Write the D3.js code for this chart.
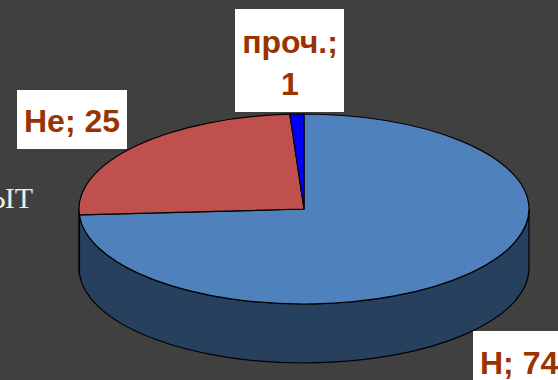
<!DOCTYPE html>
<html>
<head>
<meta charset="utf-8">
<script src="https://cdn.jsdelivr.net/npm/d3@7"></script>
<style>
  html, body { margin: 0; padding: 0; background: #404040; }
  svg { display: block; }
</style>
</head>
<body>
<svg id="chart" width="558" height="380"></svg>
<script>
// Data
const categories = ["Н", "Не", "проч."];
const values = [74, 25, 1];

// Appearance
const topColors = ["#4f81bd", "#c0504d", "#0000ff"];
const sideColors = ["#27405e", "#7a302e", "#00009a"];
const W = 558, H = 380;
const cx = 304, cy = 209, rx = 225, ry = 95, depth = 59;

const svg = d3.select("#chart");
svg.append("rect").attr("width", W).attr("height", H).attr("fill", "#404040");

// Tail of the slide text running in from the left edge
svg.append("text")
  .attr("x", 33).attr("y", 208)
  .attr("text-anchor", "end")
  .attr("font-family", "Liberation Serif, Times New Roman, serif")
  .attr("font-size", 30)
  .attr("fill", "#ececec")
  .text("ЫТ");

const data = categories.map((c, i) => ({ cat: c, value: values[i], i }));
const pie = d3.pie().sort(null).value(d => d.value);
const arcs = pie(data);

// Point on the tilted rim; angle 0 = 12 o'clock, clockwise
const px = a => cx + rx * Math.sin(a);
const py = (a, dy = 0) => cy - ry * Math.cos(a) + dy;

function topPath(a0, a1) {
  const large = (a1 - a0) > Math.PI ? 1 : 0;
  return `M${cx},${cy}L${px(a0)},${py(a0)}A${rx},${ry} 0 ${large} 1 ${px(a1)},${py(a1)}Z`;
}

function sidePath(a0, a1) {
  const s = Math.max(a0, Math.PI / 2), e = Math.min(a1, 3 * Math.PI / 2);
  if (s >= e) return null;
  const large = (e - s) > Math.PI ? 1 : 0;
  return `M${px(s)},${py(s)}A${rx},${ry} 0 ${large} 1 ${px(e)},${py(e)}` +
         `L${px(e)},${py(e, depth)}A${rx},${ry} 0 ${large} 0 ${px(s)},${py(s, depth)}Z`;
}

const g = svg.append("g");

// Front walls
g.selectAll("path.side")
  .data(arcs.filter(a => sidePath(a.startAngle, a.endAngle)))
  .join("path")
  .attr("class", "side")
  .attr("d", a => sidePath(a.startAngle, a.endAngle))
  .attr("fill", a => sideColors[a.data.i])
  .attr("stroke", "#000")
  .attr("stroke-width", 1.2)
  .attr("stroke-linejoin", "round");

// Top faces
g.selectAll("path.top")
  .data(arcs)
  .join("path")
  .attr("class", "top")
  .attr("d", a => topPath(a.startAngle, a.endAngle))
  .attr("fill", a => topColors[a.data.i])
  .attr("stroke", "#000")
  .attr("stroke-width", 1.2)
  .attr("stroke-linejoin", "round");

// Data labels in white boxes
const labelBoxes = [
  { x: 473, y: 331, w: 100, h: 60, lines: [`${categories[0]}; ${values[0]}`], tx: 480, anchor: "start", base: [374] },
  { x: 17, y: 90, w: 110, h: 59, lines: [`${categories[1]}; ${values[1]}`], tx: 72, anchor: "middle", base: [132] },
  { x: 235, y: 9, w: 109, h: 103, lines: [`${categories[2]};`, `${values[2]}`], tx: 290, anchor: "middle", base: [53, 95] }
];

const lg = svg.append("g");
labelBoxes.forEach(b => {
  lg.append("rect")
    .attr("x", b.x).attr("y", b.y).attr("width", b.w).attr("height", b.h)
    .attr("fill", "#ffffff");
  b.lines.forEach((t, k) => {
    lg.append("text")
      .attr("x", b.tx).attr("y", b.base[k])
      .attr("text-anchor", b.anchor)
      .attr("font-family", "Liberation Sans, Arial, sans-serif")
      .attr("font-weight", "bold")
      .attr("font-size", 32)
      .attr("fill", "#993300")
      .text(t);
  });
});
</script>
</body>
</html>
